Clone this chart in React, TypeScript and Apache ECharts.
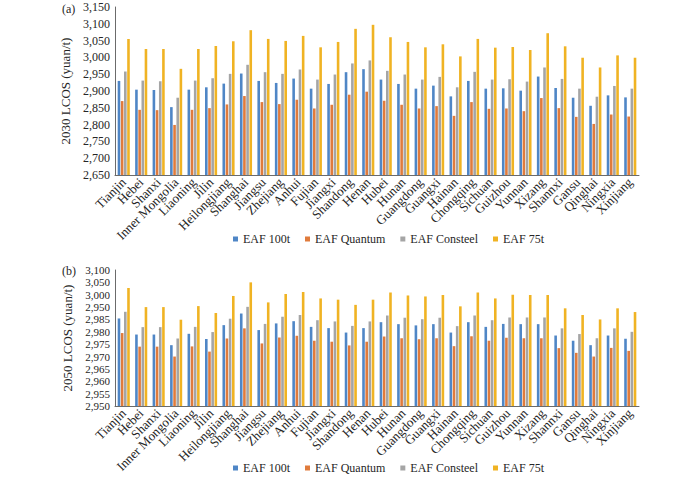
import React, { useEffect, useRef } from "react";
import * as echarts from "echarts";

// Provinces along the category axis (same order in both panels)
const provinces = [
  "Tianjin", "Hebei", "Shanxi", "Inner Mongolia", "Liaoning", "Jilin", "Heilongjiang",
  "Shanghai", "Jiangsu", "Zhejiang", "Anhui", "Fujian", "Jiangxi", "Shandong", "Henan",
  "Hubei", "Hunan", "Guangdong", "Guangxi", "Hainan", "Chongqing", "Sichuan", "Guizhou",
  "Yunnan", "Xizang", "Shannxi", "Gansu", "Qinghai", "Ningxia", "Xinjiang",
];

const seriesNames = ["EAF 100t", "EAF Quantum", "EAF Consteel", "EAF 75t"];
const seriesColors = ["#4f86c6", "#e07b3c", "#a5a5a5", "#f0b323"];

// 2030 LCOS (yuan/t)
const lcos2030_100t = [
  2930, 2904, 2903, 2852, 2904, 2911, 2922, 2952, 2930, 2924, 2937, 2907, 2921, 2956, 2965,
  2934, 2921, 2907, 2916, 2884, 2930, 2907, 2908, 2901, 2943, 2909, 2880, 2856, 2887, 2881,
];
const lcos2030_quantum = [
  2870, 2844, 2843, 2799, 2844, 2849, 2860, 2885, 2867, 2861, 2874, 2848, 2859, 2889, 2898,
  2871, 2859, 2848, 2855, 2826, 2867, 2847, 2848, 2840, 2879, 2849, 2823, 2802, 2830, 2824,
];
const lcos2030_consteel = [
  2958, 2931, 2929, 2880, 2931, 2938, 2951, 2978, 2956, 2951, 2964, 2934, 2949, 2982, 2991,
  2960, 2949, 2934, 2942, 2911, 2957, 2934, 2935, 2928, 2970, 2936, 2907, 2883, 2915, 2907,
];
const lcos2030_75t = [
  3055, 3025, 3025, 2966, 3025, 3034, 3048, 3081, 3055, 3049, 3064, 3030, 3046, 3085, 3097,
  3060, 3046, 3030, 3039, 3003, 3055, 3029, 3031, 3022, 3072, 3033, 2999, 2970, 3006, 2999,
];

// 2050 LCOS (yuan/t)
const lcos2050_100t = [
  2985.4, 2978.9, 2978.9, 2974.6, 2979.2, 2977.1, 2982.7, 2987.4, 2980.7, 2983.4, 2984.3,
  2982.0, 2981.5, 2979.7, 2981.5, 2983.9, 2983.1, 2982.6, 2983.1, 2979.7, 2983.9, 2982.0,
  2983.2, 2983.1, 2983.1, 2978.5, 2976.4, 2974.6, 2978.5, 2977.2,
];
const lcos2050_quantum = [
  2979.5, 2974.0, 2974.0, 2970.0, 2974.1, 2972.0, 2977.3, 2981.4, 2975.3, 2977.7, 2978.4,
  2976.4, 2976.0, 2974.5, 2976.0, 2978.1, 2977.4, 2977.0, 2977.4, 2974.2, 2978.2, 2976.4,
  2977.6, 2977.4, 2977.4, 2973.4, 2971.5, 2970.0, 2973.5, 2972.3,
];
const lcos2050_consteel = [
  2988.1, 2981.9, 2981.9, 2977.3, 2982.0, 2979.9, 2985.3, 2990.1, 2983.2, 2986.1, 2986.8,
  2984.7, 2984.2, 2982.4, 2984.2, 2986.6, 2985.7, 2985.1, 2985.7, 2982.3, 2986.6, 2984.7,
  2985.8, 2985.8, 2985.8, 2981.4, 2979.1, 2977.4, 2981.4, 2980.0,
];
const lcos2050_75t = [
  2997.7, 2990.0, 2990.0, 2984.9, 2990.4, 2987.6, 2994.5, 3000.0, 2991.9, 2995.3, 2996.1,
  2993.5, 2993.0, 2990.9, 2993.0, 2995.9, 2994.7, 2994.3, 2994.9, 2990.3, 2995.9, 2993.5,
  2995.0, 2994.9, 2994.9, 2989.5, 2986.8, 2985.0, 2989.5, 2988.0,
];

// Tick labels printed on the 2050 value axis, bottom to top (one per 5-unit step)
const ticks2050 = [
  "2,950", "2,955", "2,960", "2,965", "2,970", "2,975", "2,980", "2,985",
  "2,950", "3,000", "3,050", "3,100",
];

const FONT = "'Liberation Serif', 'DejaVu Serif', serif";
const TEXT = "#262626";
const AXIS = "#6b6b6b";

const data2030 = [lcos2030_100t, lcos2030_quantum, lcos2030_consteel, lcos2030_75t];
const data2050 = [lcos2050_100t, lcos2050_quantum, lcos2050_consteel, lcos2050_75t];

function categoryAxis(gridIndex: number) {
  return {
    type: "category",
    gridIndex,
    data: provinces,
    axisLine: { lineStyle: { color: AXIS, width: 1 } },
    axisTick: { show: false },
    axisLabel: {
      rotate: 45,
      interval: 0,
      margin: 5,
      fontFamily: FONT,
      fontSize: 13,
      color: TEXT,
    },
  };
}

function barSeries(values: number[][], axisIndex: number) {
  return values.map((v, i) => ({
    name: seriesNames[i],
    type: "bar",
    xAxisIndex: axisIndex,
    yAxisIndex: axisIndex,
    data: v,
    barWidth: 2.6,
    barGap: "22%",
    itemStyle: { color: seriesColors[i] },
  }));
}

function legend(top: number) {
  return {
    top,
    left: 228,
    icon: "rect",
    itemWidth: 5,
    itemHeight: 5,
    itemGap: 15,
    data: seriesNames,
    textStyle: { fontFamily: FONT, fontSize: 12, color: TEXT },
  };
}

function valueAxisBase(gridIndex: number, name: string, fontSize: number) {
  return {
    type: "value",
    gridIndex,
    name,
    nameLocation: "middle",
    nameGap: 32,
    nameTextStyle: { fontFamily: FONT, fontSize: 13, color: TEXT },
    axisLine: { show: true, lineStyle: { color: AXIS } },
    axisTick: { show: false },
    splitLine: { show: false },
    axisLabel: { margin: 5, fontFamily: FONT, fontSize, color: TEXT },
  };
}

export default function App() {
  const ref = useRef<HTMLDivElement>(null);

  useEffect(() => {
    if (!ref.current) return;
    const chart = echarts.init(ref.current, undefined, { renderer: "svg" });
    const axis2030 = valueAxisBase(0, "2030 LCOS (yuan/t)", 12);
    const axis2050 = valueAxisBase(1, "2050 LCOS (yuan/t)", 11);
    chart.setOption({
      animation: false,
      backgroundColor: "#ffffff",
      textStyle: { fontFamily: FONT },
      grid: [
        { left: 115, right: 61, top: 7, height: 168 },
        { left: 115, right: 61, top: 270, height: 136 },
      ],
      legend: [legend(228), legend(457)],
      graphic: [
        { type: "text", left: 62, top: 3, style: { text: "(a)", font: `12px ${FONT}`, fill: TEXT } },
        { type: "text", left: 62, top: 265, style: { text: "(b)", font: `12px ${FONT}`, fill: TEXT } },
      ],
      xAxis: [categoryAxis(0), categoryAxis(1)],
      yAxis: [
        {
          ...axis2030,
          min: 2650,
          max: 3150,
          interval: 50,
          axisLabel: {
            ...axis2030.axisLabel,
            formatter: (v: number) => v.toLocaleString("en-US"),
          },
        },
        {
          ...axis2050,
          min: 2950,
          max: 3005,
          interval: 5,
          axisLabel: {
            ...axis2050.axisLabel,
            formatter: (v: number) => ticks2050[Math.round((v - 2950) / 5)] ?? "",
          },
        },
      ],
      series: [...barSeries(data2030, 0), ...barSeries(data2050, 1)],
    });
    return () => chart.dispose();
  }, []);

  return <div ref={ref} style={{ width: 700, height: 480, position: "absolute", left: 0, top: 0 }} />;
}
